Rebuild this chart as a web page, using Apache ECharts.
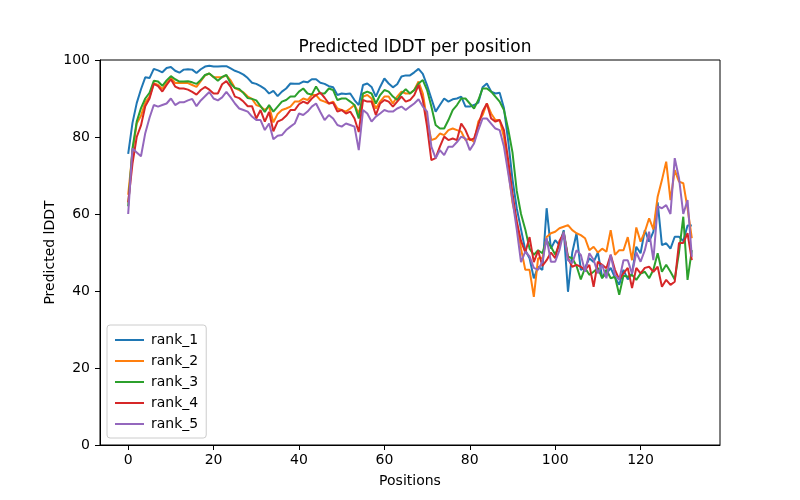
<!DOCTYPE html>
<html>
<head>
<meta charset="utf-8">
<script src="https://cdn.jsdelivr.net/npm/echarts@6/dist/echarts.min.js"></script>
<style>
html,body{margin:0;padding:0;background:#fff;}
#chart{width:800px;height:500px;}
</style>
</head>
<body>
<div id="chart"></div>
<script>
const seriesNames = ['rank_1', 'rank_2', 'rank_3', 'rank_4', 'rank_5'];
const xTicks = [0, 20, 40, 60, 80, 100, 120];
const yTicks = [0, 20, 40, 60, 80, 100];

const rank_1 = [
  75.6, 83.6, 88.8, 92.4, 95.5, 95.3, 97.7, 97.3, 96.8, 97.9,
  98.2, 97.2, 96.7, 97.5, 97.6, 97.5, 96.6, 97.6, 98.3, 98.5,
  98.3, 98.3, 98.4, 98.4, 97.8, 97.2, 96.8, 96.2, 95.3, 94.1,
  93.8, 93.2, 92.5, 91.3, 92.0, 90.6, 91.8, 92.6, 93.9, 93.8,
  93.8, 94.4, 94.2, 95.0, 95.0, 94.1, 93.8, 93.2, 92.9, 90.9,
  91.3, 91.2, 91.3, 89.6, 88.3, 93.5, 93.9, 93.0, 90.5, 93.0,
  95.2, 93.9, 92.9, 93.7, 95.7, 96.0, 96.0, 96.8, 97.7, 96.4,
  93.4, 90.0, 86.6, 88.3, 90.0, 89.2, 89.8, 90.0, 90.5, 87.9,
  87.9, 88.3, 88.9, 92.9, 93.9, 91.8, 91.3, 91.5, 87.5, 79.0,
  69.0, 61.5, 56.0, 50.6, 48.5, 43.3, 46.3, 45.5, 61.5, 51.0,
  53.2, 51.9, 55.8, 39.8, 50.0, 55.0, 45.5, 46.0, 48.5, 47.5,
  50.0, 43.5, 44.5, 46.0, 43.5, 41.6, 45.5, 43.0, 44.6, 51.5,
  49.8, 55.8, 52.8, 55.4, 63.0, 51.9, 52.4, 51.0, 54.1, 54.1,
  53.0, 57.0, 57.0
];
const rank_2 = [
  65.0, 76.0, 83.5, 85.5, 89.0, 90.5, 94.0, 93.5, 92.5, 94.0,
  95.5, 94.0, 94.0, 94.0, 94.0, 93.5, 93.0, 94.5, 96.0, 96.5,
  95.5, 95.5, 95.5, 96.0, 94.7, 92.7, 92.2, 91.6, 90.5, 89.9,
  88.3, 87.9, 87.0, 87.9, 83.8, 86.0, 87.0, 87.4, 87.9, 89.2,
  89.2, 90.0, 89.6, 90.9, 90.9, 89.6, 89.2, 88.7, 89.2, 87.4,
  87.0, 86.6, 87.4, 88.3, 86.1, 90.5, 90.9, 90.0, 87.4, 89.2,
  90.5, 90.5, 88.7, 90.5, 91.8, 91.3, 91.3, 92.2, 94.4, 91.3,
  84.4, 79.2, 79.6, 80.9, 80.5, 81.8, 82.2, 81.8, 81.4, 79.2,
  79.6, 78.7, 84.0, 85.7, 88.7, 86.1, 84.4, 84.4, 80.0, 71.5,
  63.0, 58.0, 51.0, 45.5, 45.5, 38.5, 48.5, 48.5, 54.0, 55.0,
  55.4, 56.3, 56.7, 57.1, 55.8, 55.0, 54.5, 53.7, 50.6, 51.5,
  50.0, 51.0, 50.2, 55.8, 49.4, 50.6, 50.6, 54.0, 48.0, 56.5,
  52.8, 55.4, 58.9, 56.0, 64.5, 68.8, 73.6, 63.6, 71.4, 68.4,
  68.0, 61.5, 53.7
];
const rank_3 = [
  62.0, 77.0, 84.0, 87.5, 90.0, 91.5, 94.6, 94.4, 93.3, 94.7,
  95.8, 95.0, 94.4, 94.4, 94.5, 94.2, 93.8, 94.8, 96.1, 96.5,
  95.6, 94.6, 95.6, 96.1, 93.9, 92.7, 92.5, 91.4, 90.1, 89.9,
  89.5, 88.0, 86.5, 88.3, 86.6, 87.9, 89.2, 89.6, 90.5, 90.5,
  91.8, 92.6, 91.3, 91.0, 93.1, 91.3, 91.3, 92.6, 92.2, 89.6,
  90.0, 90.0, 89.2, 88.3, 84.8, 91.3, 91.8, 91.3, 88.7, 90.9,
  92.2, 91.8, 90.5, 89.6, 91.3, 92.4, 91.3, 92.2, 93.9, 94.8,
  92.2, 87.9, 83.1, 82.2, 82.2, 84.4, 87.0, 88.3, 90.0, 90.0,
  88.7, 87.4, 89.6, 92.6, 92.6, 91.8, 90.5, 89.2, 87.0, 82.0,
  76.0, 66.0, 60.0, 56.0, 51.0, 49.4, 50.6, 49.8, 53.2, 51.5,
  49.5, 52.0, 55.4, 48.9, 48.5, 46.5, 43.0, 46.0, 44.2, 45.0,
  46.0, 43.3, 45.5, 43.3, 43.7, 39.0, 44.0, 43.7, 44.2, 42.9,
  44.5, 45.0, 43.3, 45.5, 49.8, 45.0, 46.8, 45.0, 43.0, 50.0,
  59.3, 42.9, 50.6
];
const rank_4 = [
  63.0, 73.0, 80.0, 83.0, 88.0, 90.0, 93.8, 93.2, 91.8, 93.5,
  95.0, 93.1, 92.6, 92.6, 92.3, 91.7, 91.0, 92.2, 93.0, 92.3,
  91.3, 91.3, 93.7, 94.5, 93.0, 90.5, 90.1, 89.2, 88.0, 88.0,
  84.8, 87.0, 84.0, 86.5, 81.5, 84.0, 84.5, 85.5, 87.0, 87.0,
  88.5, 89.2, 88.7, 90.0, 90.9, 91.5, 90.2, 88.7, 88.9, 86.6,
  87.0, 86.1, 86.6, 84.8, 81.3, 89.6, 89.2, 89.2, 85.7, 88.7,
  89.6, 89.2, 87.9, 89.2, 90.5, 89.2, 89.6, 90.9, 93.5, 89.6,
  82.7, 74.0, 74.5, 77.5, 80.1, 79.2, 79.6, 79.2, 83.5, 81.8,
  79.2, 79.6, 83.1, 86.6, 88.7, 84.8, 84.0, 84.4, 81.8, 74.0,
  65.4, 58.0, 53.0, 50.0, 54.0, 47.5, 50.5, 46.5, 48.0, 50.0,
  48.5, 53.0, 55.0, 48.5, 46.3, 46.8, 46.3, 45.5, 46.8, 41.1,
  47.6, 46.8, 45.9, 49.4, 45.5, 43.0, 44.6, 46.0, 40.8, 46.0,
  44.6, 46.0, 46.3, 45.0, 46.3, 41.1, 42.9, 41.6, 42.4, 52.5,
  52.5, 55.0, 48.0
];
const rank_5 = [
  60.0, 77.0, 76.0, 75.0, 81.0, 85.0, 88.3, 87.9, 88.3, 88.7,
  90.0, 88.3, 89.0, 89.0, 89.5, 89.9, 88.0, 89.5, 90.6, 91.7,
  90.0, 89.5, 90.3, 91.7, 90.3, 88.7, 87.4, 87.0, 86.6, 85.3,
  84.4, 84.4, 81.8, 83.5, 79.4, 80.3, 80.5, 81.8, 82.7, 83.5,
  86.1, 85.7, 86.6, 87.9, 88.7, 86.5, 84.4, 85.7, 84.8, 83.1,
  82.7, 83.5, 83.1, 82.7, 76.6, 87.0, 86.1, 84.0, 85.3, 86.1,
  87.0, 86.6, 86.6, 87.4, 87.9, 87.0, 87.9, 88.7, 89.8, 87.9,
  86.6, 77.5, 74.5, 76.6, 75.3, 77.5, 77.5, 78.7, 80.1, 79.6,
  76.6, 78.3, 81.8, 84.8, 84.8, 83.5, 82.2, 81.8, 77.5, 70.6,
  63.6, 56.0, 47.5, 50.2, 49.0, 46.0, 45.5, 47.6, 53.7, 47.6,
  47.6, 50.6, 55.4, 48.0, 47.2, 50.6, 49.4, 45.0, 49.8, 48.1,
  44.6, 46.8, 43.3, 49.4, 44.2, 42.9, 48.0, 48.0, 44.5, 50.0,
  47.6, 50.6, 55.4, 48.0, 62.0, 61.5, 62.3, 60.0, 74.5, 69.3,
  60.0, 63.6, 48.9
];

const allSeries = [rank_1, rank_2, rank_3, rank_4, rank_5];
const colors = ['#1f77b4', '#ff7f0e', '#2ca02c', '#d62728', '#9467bd'];
const FONT = 'DejaVu Sans';

const chart = echarts.init(document.getElementById('chart'), null, {renderer: 'canvas'});
chart.setOption({
  animation: false,
  backgroundColor: '#fff',
  color: colors,
  textStyle: {fontFamily: FONT, color: '#000'},
  title: {
    text: 'Predicted lDDT per position',
    left: 410,
    textAlign: 'center',
    top: 34,
    textStyle: {fontFamily: FONT, fontSize: 17, fontWeight: 'normal', color: '#000'}
  },
  grid: {left: 100, right: 80, top: 60, bottom: 55, show: true, borderColor: '#000', borderWidth: 1, backgroundColor: 'transparent'},
  legend: {
    orient: 'vertical',
    left: 107,
    top: 325,
    padding: [8, 8, 7, 8],
    icon: 'rect',
    itemWidth: 29,
    itemHeight: 2,
    itemGap: 7,
    borderColor: '#cccccc',
    borderWidth: 1,
    borderRadius: 3,
    backgroundColor: 'rgba(255,255,255,0.8)',
    textStyle: {fontFamily: FONT, fontSize: 14, color: '#000', padding: [0, 0, 0, 2]},
    data: seriesNames
  },
  xAxis: {
    type: 'value',
    min: -6.6,
    max: 138.6,
    name: 'Positions',
    nameLocation: 'middle',
    nameGap: 29,
    nameTextStyle: {fontFamily: FONT, fontSize: 14, color: '#000'},
    axisLine: {show: true, onZero: false, lineStyle: {color: '#000', width: 1}},
    axisTick: {show: true, length: 5, lineStyle: {color: '#000'}, customValues: xTicks},
    axisLabel: {fontFamily: FONT, fontSize: 14, color: '#000', margin: 8, customValues: xTicks},
    splitLine: {show: false}
  },
  yAxis: {
    type: 'value',
    min: 0,
    max: 100,
    interval: 20,
    name: 'Predicted lDDT',
    nameLocation: 'middle',
    nameGap: 43,
    nameMoveOverlap: false,
    nameTextStyle: {fontFamily: FONT, fontSize: 14, color: '#000'},
    axisLine: {show: true, onZero: false, lineStyle: {color: '#000', width: 1}},
    axisTick: {show: true, length: 5, lineStyle: {color: '#000'}},
    axisLabel: {fontFamily: FONT, fontSize: 14, color: '#000', margin: 10},
    splitLine: {show: false}
  },
  series: allSeries.map((vals, k) => ({
    name: seriesNames[k],
    type: 'line',
    symbol: 'none',
    lineStyle: {width: 2, color: colors[k]},
    itemStyle: {color: colors[k]},
    data: vals.map((v, i) => [i, v])
  }))
});
</script>
</body>
</html>
